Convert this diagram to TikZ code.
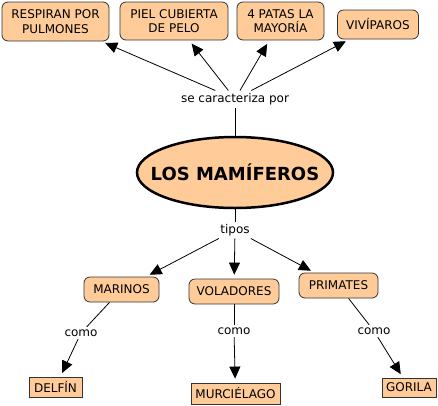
\documentclass[tikz,border=0pt]{standalone}
\usepackage{fontspec}
\setmainfont{DejaVu Sans}
\usetikzlibrary{arrows.meta,shapes.geometric}
\definecolor{cmapfill}{RGB}{255,204,153}
\tikzset{
  cmbox/.style={draw=black!80, fill=cmapfill, rounded corners=6pt, line width=0.8pt, align=center, font=\fontsize{12}{14.5}\selectfont, inner sep=2pt},
  cmleaf/.style={draw=black!80, fill=cmapfill, line width=0.8pt, font=\fontsize{12}{13}\selectfont, inner sep=1.5pt},
  cmmain/.style={ellipse, draw=black, fill=cmapfill, line width=2.5pt, font=\fontsize{18}{20}\selectfont\bfseries, inner xsep=-15pt, inner ysep=0pt},
  cmlink/.style={font=\fontsize{12}{13}\selectfont, inner sep=2.5pt},
  cmline/.style={line width=0.8pt, draw=black},
  cmarrow/.style={cmline, -{Triangle[length=12pt,width=11pt]}, shorten >=4pt},
}

\begin{document}
\begin{tikzpicture}[x=1pt, y=-1pt]
\useasboundingbox (0,0) rectangle (438,405);
% concepts
\node[cmmain, minimum width=196, minimum height=71] (mamif) at (235,172.5) {LOS MAMÍFEROS};
\node[cmbox, minimum width=107, minimum height=39] (resp) at (55.5,21.5) {RESPIRAN POR\\PULMONES};
\node[cmbox, minimum width=108, minimum height=38] (piel) at (174,21) {PIEL CUBIERTA\\DE PELO};
\node[cmbox, minimum width=87, minimum height=38] (patas) at (280.5,21) {4 PATAS LA\\MAYORÍA};
\node[cmbox, minimum width=81, minimum height=29] (vivi) at (378,24.5) {VIVÍPAROS};
\node[cmbox, minimum width=75, minimum height=25] (marinos) at (121.5,289.5) {MARINOS};
\node[cmbox, minimum width=90, minimum height=25] (volad) at (234,291.5) {VOLADORES};
\node[cmbox, minimum width=79, minimum height=25] (primat) at (338.5,285.5) {PRIMATES};
\node[cmleaf, minimum width=53, minimum height=20] (delfin) at (55.5,387) {DELFÍN};
\node[cmleaf, minimum width=89, minimum height=21] (murc) at (235.5,393.5) {MURCIÉLAGO};
\node[cmleaf, minimum width=54, minimum height=19] (gorila) at (409,387.5) {GORILA};
% linking phrases
\node[cmlink] (caract) at (235,99) {se caracteriza por};
\node[cmlink] (tipos) at (235,230) {tipos};
\node[cmlink] (como1) at (81,333) {como};
\node[cmlink] (como2) at (234,331) {como};
\node[cmlink] (como3) at (374,331) {como};
% connectors
\draw[cmline] (mamif) -- (caract);
\draw[cmarrow] (caract) -- (resp);
\draw[cmarrow] (caract) -- (piel);
\draw[cmarrow] (caract) -- (patas);
\draw[cmarrow] (caract) -- (vivi);
\draw[cmline] (mamif) -- (tipos);
\draw[cmarrow] (tipos) -- (marinos);
\draw[cmarrow] (tipos) -- (volad);
\draw[cmarrow] (tipos) -- (primat);
\draw[cmline] (marinos) -- (como1);
\draw[cmarrow] (como1) -- (delfin);
\draw[cmline] (volad) -- (como2);
\draw[cmarrow] (como2) -- (murc);
\draw[cmline] (primat) -- (como3);
\draw[cmarrow] (como3) -- (gorila);
\end{tikzpicture}
\end{document}
